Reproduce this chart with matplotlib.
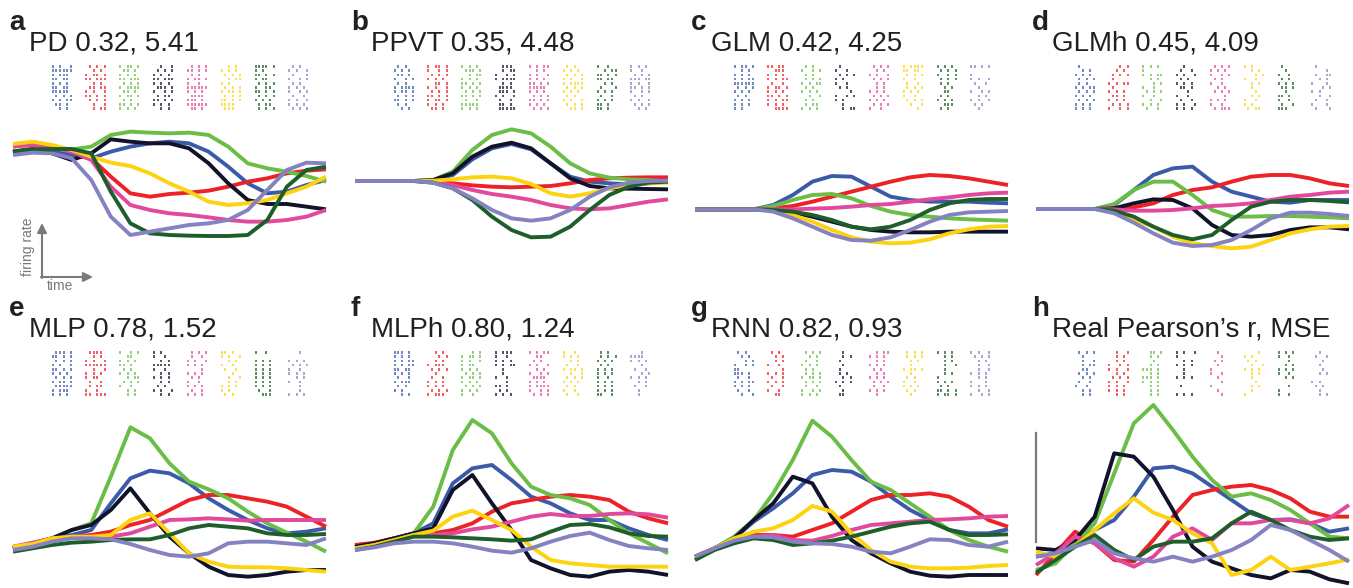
import numpy as np
import matplotlib
matplotlib.use("Agg")
import matplotlib.pyplot as plt

plt.rcParams['font.family'] = ['Liberation Sans', 'DejaVu Sans']

# condition colours: blue, red, green, black, pink, yellow, dark green, lavender
colors = ['#3b5ba9', '#ec2227', '#6abd45', '#12132b', '#e2489b', '#fdd20e', '#1d5e2b', '#8582c1']

letters = ['a', 'b', 'c', 'd', 'e', 'f', 'g', 'h']
titles = ['PD 0.32, 5.41', 'PPVT 0.35, 4.48', 'GLM 0.42, 4.25', 'GLMh 0.45, 4.09',
          'MLP 0.78, 1.52', 'MLPh 0.80, 1.24', 'RNN 0.82, 0.93', 'Real Pearson\u2019s r, MSE']

# firing rate (a.u.) sampled at 17 time bins, one row per condition
rates_a = [
    [29.0, 30.0, 29.5, 28.5, 27.5, 29.5, 31.0, 32.0, 32.5, 32.0, 29.5, 25.0, 20.0, 17.0, 17.5, 19.5, 21.0],
    [31.8, 32.0, 31.0, 29.5, 27.5, 22.0, 17.0, 16.0, 16.8, 17.2, 17.8, 19.0, 20.5, 21.5, 23.0, 23.8, 24.2],
    [29.5, 30.5, 30.5, 30.2, 31.0, 34.5, 35.5, 35.2, 35.0, 35.2, 34.5, 31.0, 26.0, 24.5, 23.5, 22.2, 20.5],
    [29.5, 30.2, 29.0, 27.0, 29.0, 33.2, 32.5, 32.0, 32.0, 30.5, 26.0, 20.0, 15.0, 13.8, 13.8, 13.0, 12.2],
    [31.0, 31.5, 31.0, 29.5, 27.0, 19.0, 13.5, 12.0, 11.0, 10.5, 9.8, 9.0, 8.5, 8.5, 9.0, 10.0, 12.0],
    [31.8, 32.5, 31.5, 30.0, 28.0, 26.2, 25.2, 23.0, 20.0, 17.5, 14.5, 13.5, 14.0, 15.0, 17.0, 19.0, 22.0],
    [29.5, 30.2, 30.3, 30.3, 29.0, 17.5, 8.0, 5.0, 4.5, 4.3, 4.2, 4.2, 4.5, 9.0, 19.0, 24.0, 25.0],
    [28.5, 29.2, 29.0, 27.5, 21.0, 10.0, 4.5, 5.5, 6.5, 7.5, 8.0, 9.0, 12.0, 18.0, 24.0, 26.2, 26.0],
]
rates_b = [
    [20.7, 20.7, 20.7, 20.7, 20.9, 22.5, 27.2, 30.5, 31.8, 30.2, 26.0, 22.0, 20.5, 20.0, 19.7, 20.0, 20.5],
    [20.7, 20.7, 20.7, 20.7, 20.5, 20.0, 19.4, 19.0, 18.8, 19.0, 19.2, 20.0, 21.0, 21.5, 21.7, 21.8, 21.8],
    [20.7, 20.7, 20.7, 20.7, 21.0, 23.5, 30.0, 34.5, 36.2, 35.0, 31.0, 26.0, 23.0, 21.7, 21.2, 21.0, 20.5],
    [20.7, 20.7, 20.7, 20.7, 21.0, 23.0, 28.0, 31.0, 32.2, 30.5, 26.0, 21.5, 19.2, 18.5, 18.4, 18.3, 18.2],
    [20.7, 20.7, 20.7, 20.7, 20.5, 19.5, 18.0, 16.8, 16.0, 15.0, 13.5, 12.5, 12.2, 12.5, 13.5, 14.5, 15.2],
    [20.7, 20.7, 20.7, 20.7, 20.8, 21.2, 21.8, 22.0, 21.5, 19.8, 17.0, 16.0, 17.0, 18.5, 19.5, 20.0, 20.2],
    [20.7, 20.7, 20.7, 20.7, 20.2, 18.5, 15.0, 10.0, 6.0, 3.8, 4.0, 7.0, 12.0, 16.5, 19.0, 20.2, 20.5],
    [20.7, 20.7, 20.7, 20.7, 20.2, 18.5, 15.5, 12.0, 9.5, 8.8, 9.5, 12.0, 16.0, 18.8, 20.2, 20.7, 20.8],
]
rates_c = [
    [12.2, 12.2, 12.2, 12.2, 13.5, 16.5, 20.5, 22.2, 22.0, 19.0, 16.0, 15.0, 14.5, 14.5, 14.5, 14.2, 14.0],
    [12.2, 12.2, 12.2, 12.2, 12.5, 13.2, 14.5, 16.0, 17.5, 19.0, 20.5, 21.8, 22.5, 22.2, 21.5, 20.5, 19.5],
    [12.2, 12.2, 12.2, 12.2, 13.2, 15.0, 16.5, 16.8, 15.5, 13.2, 11.5, 10.5, 10.0, 9.5, 9.2, 9.0, 8.8],
    [12.2, 12.2, 12.2, 12.2, 12.0, 11.3, 10.0, 8.5, 7.0, 6.0, 5.5, 5.3, 5.3, 5.5, 5.5, 5.5, 5.5],
    [12.2, 12.2, 12.2, 12.2, 12.2, 12.2, 12.4, 12.6, 13.0, 13.5, 13.8, 14.5, 15.2, 15.8, 16.5, 17.0, 17.2],
    [12.2, 12.2, 12.2, 12.2, 11.8, 10.5, 8.5, 6.0, 3.8, 2.5, 2.0, 2.2, 3.2, 5.0, 6.2, 7.0, 7.2],
    [12.2, 12.2, 12.2, 12.2, 12.0, 11.5, 10.5, 9.0, 7.0, 6.2, 7.0, 9.0, 12.0, 14.0, 15.0, 15.3, 15.3],
    [12.2, 12.2, 12.2, 12.2, 11.5, 9.5, 7.0, 4.5, 3.0, 2.8, 3.8, 6.0, 8.5, 10.5, 11.3, 11.5, 11.7],
]
rates_d = [
    [12.3, 12.3, 12.3, 12.3, 13.5, 18.0, 22.5, 24.5, 25.0, 20.5, 17.5, 16.0, 14.5, 14.2, 15.0, 15.0, 15.0],
    [12.3, 12.3, 12.3, 12.3, 12.5, 12.8, 14.0, 16.5, 18.0, 18.8, 20.5, 22.0, 22.5, 22.5, 21.5, 20.0, 19.2],
    [12.3, 12.3, 12.3, 12.3, 13.8, 18.0, 20.5, 20.5, 16.5, 12.0, 10.0, 10.0, 10.2, 10.2, 10.0, 9.8, 9.5],
    [12.3, 12.3, 12.3, 12.3, 12.5, 14.0, 15.2, 15.0, 12.5, 7.5, 4.5, 4.0, 4.5, 6.0, 6.8, 6.8, 6.2],
    [12.3, 12.3, 12.3, 12.3, 12.2, 11.8, 11.8, 12.0, 12.5, 13.2, 13.5, 14.0, 15.0, 16.0, 16.5, 17.2, 17.5],
    [12.3, 12.3, 12.3, 12.3, 11.5, 9.0, 7.0, 4.0, 2.0, 1.2, 0.5, 1.0, 3.0, 5.0, 6.2, 7.0, 7.2],
    [12.3, 12.3, 12.3, 12.3, 11.8, 10.0, 7.0, 4.5, 3.2, 4.5, 9.0, 13.0, 14.5, 15.0, 15.0, 14.7, 14.3],
    [12.3, 12.3, 12.3, 12.3, 11.0, 8.2, 5.0, 2.2, 1.2, 1.5, 3.0, 6.0, 9.5, 11.2, 11.2, 10.8, 10.2],
]
rates_e = [
    [12.5, 13.8, 15.2, 16.5, 18.0, 26.0, 33.5, 35.8, 35.0, 32.0, 27.5, 24.0, 21.0, 18.5, 17.0, 17.5, 18.5],
    [12.5, 14.0, 15.5, 16.0, 16.5, 17.5, 19.5, 21.0, 24.0, 27.0, 28.5, 28.5, 27.5, 26.5, 25.0, 22.0, 19.0],
    [12.5, 14.0, 15.5, 18.0, 20.0, 34.0, 48.8, 45.5, 38.0, 32.5, 30.2, 27.5, 23.5, 20.0, 17.2, 14.5, 11.5],
    [12.5, 14.0, 15.5, 18.0, 19.5, 24.0, 30.5, 23.0, 16.0, 11.0, 7.0, 4.5, 4.0, 4.5, 5.5, 6.0, 6.0],
    [13.0, 14.2, 15.5, 16.0, 16.0, 16.0, 17.0, 19.0, 21.0, 21.2, 21.5, 21.2, 20.8, 21.0, 21.0, 21.0, 21.0],
    [13.0, 13.8, 15.5, 16.0, 16.0, 16.5, 21.0, 23.0, 17.0, 11.0, 8.5, 7.0, 6.8, 6.8, 6.5, 6.0, 5.5],
    [11.5, 12.5, 13.5, 14.2, 14.5, 15.0, 15.2, 15.2, 16.5, 18.5, 19.5, 19.0, 18.5, 17.0, 16.5, 16.5, 16.8],
    [12.0, 13.0, 14.5, 15.5, 15.5, 15.2, 13.8, 12.0, 10.5, 10.0, 11.0, 14.0, 14.5, 14.5, 14.0, 13.5, 15.5],
]
rates_f = [
    [13.0, 14.0, 15.5, 17.0, 20.0, 32.0, 36.5, 37.5, 33.0, 28.0, 26.0, 23.0, 21.0, 21.0, 18.5, 16.5, 15.0],
    [13.5, 14.2, 15.5, 16.5, 17.0, 18.0, 20.0, 23.5, 26.0, 27.0, 28.0, 28.5, 28.0, 27.0, 23.5, 21.5, 20.0],
    [13.0, 13.8, 15.2, 17.0, 25.0, 42.0, 51.0, 47.0, 38.0, 31.0, 28.5, 27.5, 25.5, 21.0, 17.0, 14.0, 11.0],
    [13.0, 14.0, 15.5, 17.0, 18.5, 30.0, 34.5, 26.0, 18.0, 9.0, 6.5, 4.5, 4.0, 5.5, 6.0, 5.5, 4.5],
    [12.5, 13.5, 14.8, 16.5, 16.5, 17.0, 18.2, 19.0, 20.5, 22.0, 22.8, 22.2, 22.2, 22.8, 23.0, 22.7, 21.7],
    [12.5, 13.5, 15.0, 16.5, 17.8, 22.0, 23.8, 21.0, 18.0, 13.0, 9.0, 8.0, 7.5, 7.0, 7.0, 7.0, 7.0],
    [12.0, 13.0, 14.5, 16.0, 16.0, 15.8, 15.5, 15.2, 14.8, 15.2, 17.5, 19.5, 19.8, 18.8, 17.0, 16.2, 16.0],
    [12.0, 12.8, 14.0, 14.5, 14.5, 14.0, 13.0, 11.8, 11.2, 12.5, 14.5, 16.2, 17.2, 15.0, 13.2, 12.5, 12.0],
]
rates_g = [
    [10.0, 12.5, 15.5, 20.5, 24.5, 29.0, 34.5, 36.0, 35.5, 32.5, 28.0, 24.0, 21.0, 18.0, 17.0, 17.0, 18.2],
    [10.0, 12.5, 15.0, 16.5, 16.5, 16.0, 18.0, 20.0, 23.5, 27.0, 28.5, 28.5, 29.0, 28.0, 25.0, 21.0, 19.0],
    [9.0, 12.5, 16.0, 21.0, 29.0, 39.0, 50.8, 46.0, 39.0, 32.5, 30.0, 26.0, 22.0, 18.0, 15.0, 13.0, 11.5],
    [10.0, 12.5, 15.5, 21.0, 26.0, 34.0, 32.0, 22.0, 15.0, 11.0, 8.0, 5.5, 4.3, 4.0, 4.5, 4.5, 4.5],
    [10.0, 12.5, 15.0, 16.0, 16.5, 15.0, 14.8, 16.2, 18.0, 19.5, 20.0, 20.5, 21.0, 21.2, 21.5, 22.0, 22.2],
    [10.0, 12.5, 15.5, 17.5, 18.5, 21.0, 25.2, 23.5, 17.0, 12.0, 8.5, 7.0, 6.5, 6.5, 6.7, 7.2, 7.5],
    [9.0, 12.0, 14.0, 15.5, 15.0, 13.5, 14.0, 14.8, 16.0, 17.5, 19.0, 20.0, 20.5, 18.0, 16.5, 16.5, 16.7],
    [10.0, 12.5, 14.8, 16.0, 15.8, 14.5, 14.0, 13.8, 13.0, 11.5, 11.0, 13.0, 15.2, 15.0, 13.5, 13.0, 14.5],
]
rates_h = [
    [10.0, 11.0, 14.0, 18.0, 21.0, 28.0, 36.5, 37.0, 35.0, 31.0, 27.0, 23.0, 21.0, 21.2, 20.0, 17.5, 18.5],
    [4.5, 11.0, 17.5, 14.0, 9.0, 8.5, 15.0, 22.0, 28.5, 30.0, 31.0, 31.5, 30.0, 27.5, 23.5, 22.0, 22.0],
    [6.0, 8.0, 14.0, 20.0, 35.0, 50.0, 55.5, 48.0, 40.0, 33.0, 28.0, 29.0, 27.0, 24.0, 20.0, 16.0, 15.5],
    [12.5, 12.0, 15.0, 22.0, 41.0, 40.0, 34.0, 24.0, 13.0, 8.5, 6.5, 4.5, 3.5, 6.0, 5.5, 3.2, 2.0],
    [7.5, 11.0, 16.0, 14.0, 9.5, 7.0, 10.0, 16.0, 18.5, 15.0, 20.0, 20.0, 21.0, 21.0, 20.0, 21.5, 25.5],
    [11.5, 10.0, 13.0, 18.0, 23.0, 27.5, 23.2, 21.0, 17.0, 14.0, 4.5, 6.0, 10.0, 6.0, 7.0, 8.0, 9.2],
    [5.2, 9.0, 13.0, 16.5, 12.0, 9.0, 13.0, 14.5, 14.5, 15.5, 20.0, 23.5, 21.0, 18.0, 16.0, 15.0, 15.5],
    [10.0, 11.0, 13.0, 15.0, 11.0, 9.5, 8.5, 10.0, 8.5, 10.0, 12.0, 15.0, 19.5, 18.0, 15.0, 12.0, 8.5],
]

# spike rasters: 11 trials x 6 time bins per condition ('x' = spike)
raster_a = [
    "x.x..x xxxxxx x.xxx. xx.xx. x.x.x. xx.xx. xxxxx. .x.x.x x.x.xx .xx.x. ..x.x.",
    ".x.x.x ..x.x. x.xx.x xx.xxx ..x.x. .xx.xx x.x..x xx.x.x .x.x.x ..x..x ..x.xx",
    "x.xx.x .xx.x. x.x.x. xx.xxx .x.x.x x.xxxx .xx.x. x.xx.x .x.x.. xx.x.x x.x.x.",
    "..x..x .x.x.x x.x.x. xx.xxx x.x.x. .xxx.x x..x.x .x.xx. xx.x.x x.x.x. ..x.x.",
    ".x.x.x xx.x.x .x.x.. x.xx.x x..x.. xxxxxx x.x.x. .xxxx. xxx.x. xxxxxx .xx.x.",
    "..x.x. x.x.x. .x.x.x ..x.xx x.x... .x.x.x x.xx.x .x.x.x xx.x.x xxxx.. .xxx..",
    "xxxx.x x.x... xx.x.x x.xx.. .x.x.x x..xx. xx.x.x .x.x.x x.x.x. .x.xx. .x.x.x",
    ".x.x.. x.x..x .x...x x..x.x .x.x.. x.x.x. x..x.x .x..x. x.x..x x.x.x. .x.x.x",
]
raster_b = [
    ".x.x.. x.x.x. .xx.x. x..x.x .x.x.. x.xxxx x.xx.x .x.x.x xx.x.x .x.x.. ..x.x.",
    "x.xx.x x..x.x .x.x.x x.x.x. ..xx.x x.x..x .x.x.x xx.x.x x.xx.x x.x.x. .xx.x.",
    "x.x.x. .xxx.x ..x.xx x.x.x. xx.x.x x.x.x. .x.x.x xx.x.x .x..x. xxxxx. x.x.x.",
    "..xxx. ..x.xx x..x.x x.xxxx ..x.x. .xxxx. .xxx.x x.x..x .x..x. .xx.x. .xxxxx",
    "x.x.xx ..x.x. x.x..x x.x.x. xx.x.x xxxxx. x.x.x. .x.x.x xx.x.x x.x.x. .x.x.x",
    ".x.x.. x.x.x. .x.x.x x.x..x x.xxxx .x.x.x x.x.x. .x.x.. x.x..x .x.x.x ..xx.x",
    "x..x.. ..x.xx xx.x.x xx.xx. ..x.x. .x...x x.x.x. .x..x. x.x.x. xx.x.. xx.x..",
    "x.x.x. x..x.. .x.x.x xxx.xx x.x..x xx.x.x x..x.x .x.x.. x.x..x .x.x.x ..x.x.",
]
raster_c = [
    "x.xx.x ..x.x. x.x.x. x.x.xx xxxxxx .x.x.x x.x.x. .x.x.. x.x.x. x.x.x. x.x...",
    "xx.xx. ..xxx. x.x.x. x.x.xx .x..x. x.xx.x x.x.x. xx.x.x x.x.xx x.x.x. ..xxxx",
    ".x.x.. x..x.x .x.x.. .x.x.x x.x.xx .x.x.. x.x.x. ..x..x .x.x.. .x.xx. x.x.x.",
    ".x.... x..x.. .x.x.x x.x... x..x.. .x.x.. ....x. x..x.x x.x... ..x... ..x.xx",
    ".x.x.x ..x.x. x.x..x .x.x.x ..x.x. ..x.x. x.x.x. .x.x.x x.x.x. .x.x.x x..x..",
    "x.xxxx xx.xx. .x.x.x x..x.. .x..x. .x.x.x x.x.x. x..x.. .x.x.x ..x..x ....x.",
    "x.x.x. .x.x.x x..x.x .x.x.x .x.x.. ..x.x. ..xx.. .x.x.. x.x.x. ..xxx. .x.x..",
    "xx.x.x ...... x..... x.x..x .x..x. ..x... x..x.x ..x.x. x.x..x .x.x.. ..x...",
]
raster_d = [
    ".x.... ..x.x. x.x.x. .x.x.x .x.x.. x.x.xx .x.x.x x.x.x. .x.x.x x.x.x. x.x.x.",
    "...x.x ..x.x. .x.x.x .x.... x.x.xx .x.... x.x.x. .xx.x. x.x.x. .x.x.x x..x.x",
    "x.x.x. x..... x.x.xx ..x.x. ...x.x x..x.. .x.x.x x..x.. ..x..x x.x.x. .x..x.",
    "..x... .x..x. x.x..x .x.x.. x.x.x. .xx.x. ...x.. x..x.. .x..x. x.x..x x.x.x.",
    ".x.x.x x.x.x. x..x.x .x.x.. x..x.. ..x.x. .x.x.x ....x. x.x.x. x..x.. .x.xxx",
    "x.x... ..x.x. ...x.x x..x.. ..x.x. ..x... ...x.. ..x.x. x..x.. x.x... .x.xx.",
    ".x.... ..x... x..x.. .x.x.. x.x.x. .xx.x. ..x... xx.x.. x..x.. .x..x. xxx...",
    ".x.... ....x. .x..xx ..x.x. x...x. ...x.x x.x... ..x..x .x..x. x...x. .x...x",
]
raster_e = [
    ".xxx.x xx.x.x .x.x.x x.x..x xx.x.x x.x.x. .x.x.x x.xx.x .xxxxx x.xxx. x.x.x.",
    ".xxxx. ..x.x. x.x..x xxxxxx ..x..x x.x.x. x.xx.. .x..x. .x.xx. x..x.. xx.xxx",
    "x..x.x ..xx.. x.x.x. xx.x.. .x.x.. x.x.x. ..x.xx .x.x.x x..x.. ..x.x. ..x.x.",
    "x.x... x..x.. ..x.x. xxxxx. x..x.. ..x.x. x.x.x. ..x.x. .x.x.. x.x..x ..x.x.",
    ".x.x.x .x..x. x.x..x x.x.x. ....x. x.x.x. .x.x.. x..x.. x.x.x. .x..x. x.x.x.",
    "xx.x.. x.x..x ..x.x. x..x.. .x..x. ...x.. ..x..x ..x.x. x.x.x. x.x... .x.x..",
    "x..x.. ...... x.x.x. x.x.x. x.x.x. x.x.x. x.x.x. x.x.x. x.x.x. .x..x. ..xxx.",
    "...x.. ...... x.x.x. .x.x.x x..x.. x.x.x. ..x.x. x..x.. ...x.. ...x.. x.x.x.",
]
raster_f = [
    "xxx.x. x.x.x. x.x.xx x.x.xx xx.xx. x.x.x. .x..x. x.xxx. .x.x.. x.x... ..x.x.",
    "..x.x. ...x.x ..x.x. x.xxx. .x.x.x ..x... .x..x. x.x.x. x.x.x. .x.x.x x.xxx.",
    "...x.x x.xx.x x.x..x x.xx.. x.x.x. .x.x.x x.xx.x x.x.x. .x.x.x x.x.x. x..x..",
    "x.xxx. x..x.. x.x.x. x.x.xx ..x... ..x... x..x.. ...x.. xx.x.. .x.x.. x.x.x.",
    "x.x.xx ..xx.. .x.x.. x.x..x ..x.x. x..x.x .xxxx. x.x.x. x.xxxx x..x.x .x.x.x",
    "x..x.. x.x.x. ..x.x. .x..x. x.xx.x ..x..x .x.x.x x.x.x. .x.x.. x..x.. .x..x.",
    ".x.x.. .x.x.x x.x.x. .x.x.. x.x.x. x.x.x. x..x.. x.x.x. x.x.x. x.x.x. xx..x.",
    "...x.. xxxx.. x.x.x. ...x.. .x..x. ...x.x x.x.x. ..x.x. .x..x. ..x... ..x...",
]
raster_g = [
    ".x.x.. ..x.x. ...x.x x..x.x xx.... xxx.x. .x..x. x.x.xx x.x.x. .x..x. ..x..x",
    ".x.x.. ..x.x. ..x.x. x..x.. ....x. x.x.x. .x..x. x.x.x. .x..x. x..x.. ..xx..",
    ".x.x.x ..x.x. .x..x. x.x.x. .x.x.. .x.x.x x.xx.x .x.x.x .x..x. x..x.x x.x.x.",
    "..x... ..x.x. .x.... ..x... .x.... .x.x.. ..x.x. x.x.x. .x.... ..x... .xx...",
    "..x.xx x.x.x. ..x.x. x.x.x. .x.x.. ..x.x. x.x.x. .x.x.x .x..x. x.x.x. ..x...",
    ".x.x.x .x.x.x ..x.x. ..x... x.xx.x ..x... .x.x.. x..x.. x.x.x. .x.x.. ..x...",
    "x.x.x. ..x.x. ..x.x. ..x..x ..x... ..x.x. x..... x.x.x. .x.x.. xx.x.x x.xx.x",
    "x.x..x .x.x.x ..x.x. ..x..x ..x..x x.x.x. ..x.x. x...x. x.x.x. ..x..x x..x.x",
]
raster_h = [
    ".x.x.x ..x... ..x..x ..x.xx ..xx.. .x.x.x ..x.x. .x..x. x..x.. ..x.x. ..x.x.",
    "..x..x ..x.x. ..x.x. x..x.x x.x..x ..x.x. .x.x.x x.x..x x.x.x. x.x.x. ..x.x.",
    "..xx.x ..x.x. ...x.. ..x.x. xxx.x. ..x.x. xxx.x. x.x.x. ..x.x. ..x.x. ..x.x.",
    "x.x..x x..... ..x.x. x.x.x. ..x... ..x... x.x.x. ...... .x.... ...... x.x.x.",
    "..x... ...x.. .x.x.. ..x... x..... x..x.. ..x... ...x.. x..... ..x... ...x..",
    "....x. x.x... .x.x.. ..x..x x.x.x. ..x.x. ..x... ...x.. ..x.x. ..x... x.....",
    "x.x.x. x..x.. ...x.. ..x.x. x.x.x. x..x.. ..x.x. ...... ...x.. x..... x..x..",
    "..x... .x..x. ...x.. ..x... ...x.. ..x.x. ...... x.x... .x.x.. ..x... ..x.x.",
]

all_rates = [rates_a, rates_b, rates_c, rates_d, rates_e, rates_f, rates_g, rates_h]
all_rasters = [raster_a, raster_b, raster_c, raster_d, raster_e, raster_f, raster_g, raster_h]

W, H = 1353, 588
fig = plt.figure(figsize=(W / 100, H / 100), dpi=100)

panel_left = [13, 355, 695, 1036]
row_off = [0, 286]
t = np.arange(17)

for p in range(8):
    row, col = p // 4, p % 4
    x0 = panel_left[col]
    dy = row_off[row]

    # panel letter and title (baseline positions in pixels from top)
    fig.text((x0 - 4) / W, 1 - (30 + dy) / H, letters[p], fontsize=20, fontweight='bold',
             color='#231f20', va='baseline', ha='left')
    fig.text((x0 + 16) / W, 1 - (51 + dy) / H, titles[p], fontsize=20, color='#231f20',
             va='baseline', ha='left')

    # raster
    rtop = 64 + dy
    rax = fig.add_axes([(x0 + 38) / W, 1 - (rtop + 47) / H, 261 / W, 47 / H])
    for g, pattern in enumerate(all_rasters[p]):
        for r, trial in enumerate(pattern.split()):
            xs = [g + c * 0.107 for c, ch in enumerate(trial) if ch == 'x']
            if xs:
                rax.vlines(xs, r - 0.32, r + 0.32, color=colors[g], lw=1.2, alpha=0.85)
    rax.set_xlim(-0.05, 7.67)
    rax.set_ylim(10.6, -0.6)
    rax.axis('off')

    # PSTH lines
    if row == 0:
        ax = fig.add_axes([x0 / W, 1 - 259 / H, 313 / W, 139 / H])
        ax.set_ylim(-2.7, 39)
    else:
        ax = fig.add_axes([x0 / W, 0, 313 / W, 198 / H])
        ax.set_ylim(0.6, 60)
    for k in range(8):
        ax.plot(t, all_rates[p][k], color=colors[k], lw=2.8, solid_joinstyle='round',
                solid_capstyle='butt', clip_on=False)
    ax.set_xlim(0, 16)
    ax.axis('off')

    if p == 7:
        ax.plot([0, 0], [14.4, 47.1], color='#7a7a7a', lw=1.6, clip_on=False)

# firing rate / time axes key in panel a
ax_key = dict(xycoords='figure pixels', textcoords='figure pixels',
              arrowprops=dict(arrowstyle='-|>', color='#7a7a7a', lw=1.5, mutation_scale=14,
                              shrinkA=0, shrinkB=0))
fig.axes[1].annotate('', xy=(42, H - 223), xytext=(42, H - 278), **ax_key)
fig.axes[1].annotate('', xy=(93, H - 277), xytext=(41, H - 277), **ax_key)
fig.text(28 / W, 1 - 247 / H, 'firing rate', rotation=90, fontsize=10, color='#7a7a7a',
         ha='center', va='center')
fig.text(60 / W, 1 - 286 / H, 'time', fontsize=10, color='#7a7a7a', ha='center', va='center')

plt.savefig('out.png', dpi=100)
